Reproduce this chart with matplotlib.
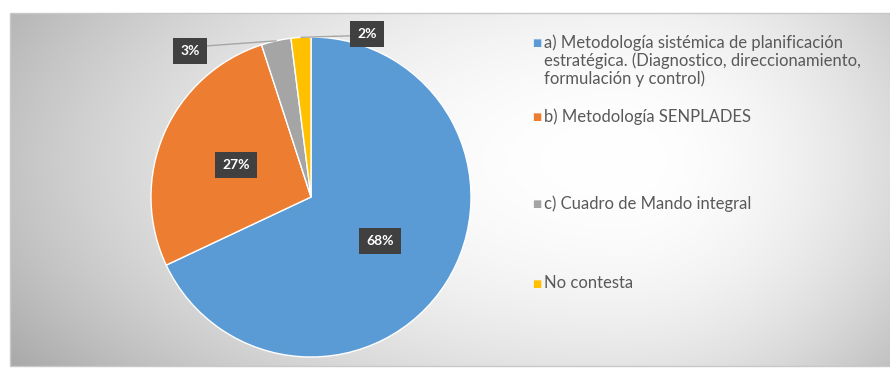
import matplotlib.pyplot as plt
from matplotlib.patches import Rectangle
import numpy as np

plt.rcParams['font.family'] = ['Lato', 'DejaVu Sans']

# survey answers
labels = ['a) Metodología sistémica de planificación\nestratégica. (Diagnostico, direccionamiento,\nformulación y control)',
          'b) Metodología SENPLADES',
          'c) Cuadro de Mando integral',
          'No contesta']
values = [68, 27, 3, 2]
colors = ['#5b9bd5', '#ed7d31', '#a5a5a5', '#ffc000']

W, H = 890, 375
fig = plt.figure(figsize=(W / 100, H / 100), dpi=100)

# background with soft grey gradient
bg = fig.add_axes([0, 0, 1, 1], zorder=-10)
yy, xx = np.mgrid[0:H, 0:W]
dx = np.where(xx < 620, (xx - 620) / 520.0, (xx - 620) / 300.0)
dy = (yy - 160) / 260.0
shade = np.clip(1.0 - 0.17 * (dx ** 2 + dy ** 2), 0, 1)
bg.imshow(np.dstack([shade] * 3), extent=[0, W, H, 0], aspect='auto')
bg.set_xlim(0, W)
bg.set_ylim(H, 0)
bg.axis('off')
# outer white margin and thin frame
for r in [Rectangle((0, 0), W, 13), Rectangle((0, 0), 10, H), Rectangle((0, 366), W, 9)]:
    r.set_facecolor('white')
    r.set_edgecolor('none')
    bg.add_patch(r)
bg.add_patch(Rectangle((10, 13), W, 353, fill=False, edgecolor='#c8c8c8', lw=1))

# pie
cx, cy, rad = 311, 197, 160
ax = fig.add_axes([(cx - rad) / W, (H - cy - rad) / H, 2 * rad / W, 2 * rad / H])
wedges, _ = ax.pie(values, colors=colors, startangle=90, counterclock=False,
                   wedgeprops=dict(edgecolor='white', linewidth=1))
ax.set_xlim(-1, 1)
ax.set_ylim(-1, 1)
ax.set_aspect('auto')

box = dict(boxstyle='square,pad=0.5', facecolor='#404040', edgecolor='none')
# (position, leader line anchor on the box) for each label
label_pos = [((0.51, None), None), ((0.51, None), None),
             ((-0.756, 0.915), (1, 0.85)), ((0.35, 1.02), (0, 0.35))]
for w, v, (pos, rel) in zip(wedges, values, label_pos):
    mid = np.deg2rad((w.theta1 + w.theta2) / 2)
    if pos[1] is None:
        x, y = pos[0] * np.cos(mid), pos[0] * np.sin(mid)
        ax.text(x, y, f'{v}%', color='white', fontsize=10, fontweight='bold',
                ha='center', va='center', bbox=box)
    else:
        ex, ey = np.cos(mid), np.sin(mid)
        ax.annotate(f'{v}%', xy=(ex, ey), xytext=pos, color='white', fontsize=10,
                    fontweight='bold', ha='center', va='center', bbox=box,
                    arrowprops=dict(arrowstyle='-', color='#a6a6a6', lw=1,
                                    shrinkA=0, shrinkB=0, relpos=rel),
                    annotation_clip=False)

# legend entries
legend_y = [43, 117, 204, 284]
for lab, col, y in zip(labels, colors, legend_y):
    fig.text(537 / W, 1 - y / H, '■', color=col, fontsize=7, ha='center', va='center',
             family='DejaVu Sans')
    fig.text(544 / W, 1 - (y - 9) / H, lab, color='#595959', fontsize=12,
             ha='left', va='top', linespacing=1.12)

plt.savefig('out.png', dpi=100)
